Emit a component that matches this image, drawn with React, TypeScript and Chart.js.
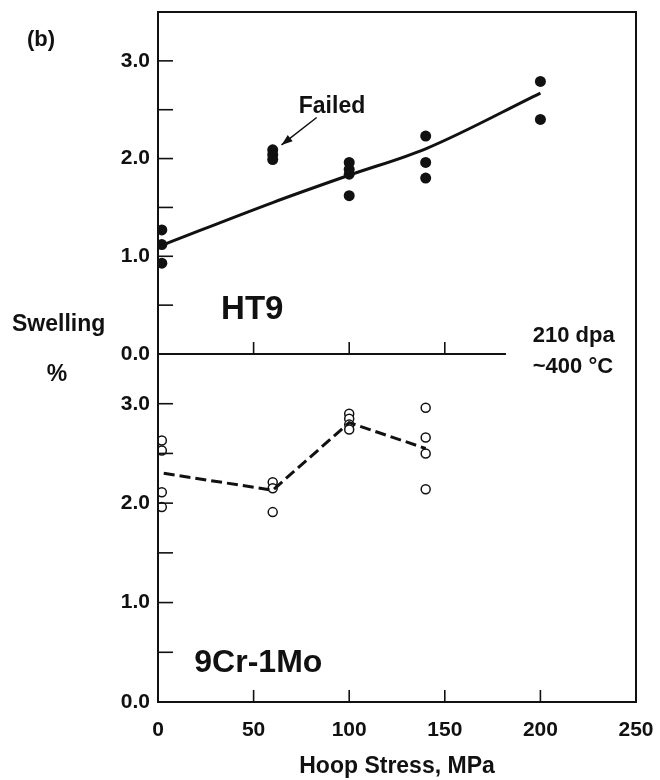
import React, { useEffect, useRef } from 'react';
import { Chart, registerables } from 'chart.js';

Chart.register(...registerables);

const FONT = "'Liberation Sans', Arial, Helvetica, sans-serif";

// HT9 (filled circles), hoop stress (MPa) vs swelling (%)
const ht9X = [2, 2, 2, 60, 60, 60, 100, 100, 100, 100, 140, 140, 140, 200, 200];
const ht9Y = [1.27, 1.12, 0.93, 2.09, 2.04, 1.99, 1.96, 1.89, 1.84, 1.62, 2.23, 1.96, 1.8, 2.79, 2.4];
const ht9FitX = [3, 60, 100, 140, 200];
const ht9FitY = [1.12, 1.55, 1.83, 2.1, 2.67];

// 9Cr-1Mo (open circles)
const crX = [2, 2, 2, 2, 60, 60, 60, 100, 100, 100, 100, 140, 140, 140, 140];
const crY = [2.63, 2.53, 2.11, 1.96, 2.21, 2.15, 1.91, 2.9, 2.85, 2.79, 2.74, 2.96, 2.66, 2.5, 2.14];
const crLineX = [3, 60, 100, 140];
const crLineY = [2.3, 2.13, 2.81, 2.55];

// axis ticks
const yMinorTicks = [0.5, 1, 1.5, 2, 2.5, 3];
const xTicksTop = [50, 100, 150];
const xTicksBottom = [50, 100, 150, 200];

const zip = (xs: number[], ys: number[]) => xs.map((x, i) => ({ x, y: ys[i] }));

const yTickLabel = (v: any) => (Number.isInteger(v) ? Number(v).toFixed(1) : '');

const framePlugin = {
  id: 'frame',
  afterDraw(chart: any) {
    const ctx = chart.ctx as CanvasRenderingContext2D;
    const sx = chart.scales.x;
    const yt = chart.scales.yTop;
    const yb = chart.scales.yBot;
    const L = sx.getPixelForValue(0);
    const R = sx.getPixelForValue(250);
    const T = yt.getPixelForValue(3.5);
    const B = yb.getPixelForValue(0);
    const M = yt.getPixelForValue(0);
    ctx.save();
    ctx.strokeStyle = '#111';
    ctx.fillStyle = '#111';
    ctx.lineWidth = 2;
    ctx.beginPath();
    ctx.moveTo(L, T);
    ctx.lineTo(R, T);
    ctx.lineTo(R, B);
    ctx.lineTo(L, B);
    ctx.closePath();
    ctx.stroke();
    // middle zero line of HT9 panel (stops short of the right side)
    ctx.beginPath();
    ctx.moveTo(L, M);
    ctx.lineTo(sx.getPixelForValue(182), M);
    ctx.stroke();
    // inward y ticks
    ctx.lineWidth = 1.6;
    for (const s of [yt, yb]) {
      for (const v of yMinorTicks) {
        const p = s.getPixelForValue(v);
        ctx.beginPath();
        ctx.moveTo(L, p);
        ctx.lineTo(L + 15, p);
        ctx.stroke();
      }
    }
    // inward x ticks
    for (const v of xTicksTop) {
      const p = sx.getPixelForValue(v);
      ctx.beginPath();
      ctx.moveTo(p, M);
      ctx.lineTo(p, M - 12);
      ctx.stroke();
    }
    for (const v of xTicksBottom) {
      const p = sx.getPixelForValue(v);
      ctx.beginPath();
      ctx.moveTo(p, B);
      ctx.lineTo(p, B - 12);
      ctx.stroke();
    }

    // texts
    ctx.textBaseline = 'alphabetic';
    ctx.textAlign = 'left';
    ctx.font = `bold 22px ${FONT}`;
    ctx.fillText('(b)', 27, 46);
    ctx.font = `bold 23px ${FONT}`;
    ctx.fillText('Swelling', 12, 331);
    ctx.textAlign = 'center';
    ctx.fillText('%', 57, 381);

    // Failed + arrow
    ctx.textAlign = 'center';
    ctx.font = `bold 23px ${FONT}`;
    ctx.fillText('Failed', sx.getPixelForValue(91), yt.getPixelForValue(2.47));
    const ax0 = sx.getPixelForValue(83), ay0 = yt.getPixelForValue(2.42);
    const ax1 = sx.getPixelForValue(64.6), ay1 = yt.getPixelForValue(2.14);
    ctx.lineWidth = 1.5;
    ctx.beginPath();
    ctx.moveTo(ax0, ay0);
    ctx.lineTo(ax1, ay1);
    ctx.stroke();
    const ang = Math.atan2(ay1 - ay0, ax1 - ax0);
    const hl = 11, hw = 4;
    ctx.beginPath();
    ctx.moveTo(ax1, ay1);
    ctx.lineTo(ax1 - hl * Math.cos(ang) + hw * Math.sin(ang), ay1 - hl * Math.sin(ang) - hw * Math.cos(ang));
    ctx.lineTo(ax1 - hl * Math.cos(ang) - hw * Math.sin(ang), ay1 - hl * Math.sin(ang) + hw * Math.cos(ang));
    ctx.closePath();
    ctx.fill();

    ctx.textAlign = 'left';
    ctx.font = `bold 33px ${FONT}`;
    ctx.fillText('HT9', sx.getPixelForValue(33), yt.getPixelForValue(0.36));
    ctx.font = `bold 32px ${FONT}`;
    ctx.fillText('9Cr-1Mo', sx.getPixelForValue(19), yb.getPixelForValue(0.3));
    ctx.font = `bold 22px ${FONT}`;
    ctx.fillText('210 dpa', sx.getPixelForValue(196), yt.getPixelForValue(0.12));
    ctx.fillText('~400 °C', sx.getPixelForValue(196), yb.getPixelForValue(3.31));
    ctx.restore();
  },
};

export default function App() {
  const ref = useRef<HTMLCanvasElement | null>(null);
  useEffect(() => {
    if (!ref.current) return;
    const yCommon = (weight: number, stackWeight: number) => ({
      type: 'linear' as const,
      position: 'left' as const,
      stack: 'panels',
      stackWeight,
      weight,
      min: 0,
      max: 3.5,
      grid: { display: false, drawTicks: false },
      border: { display: false },
      ticks: {
        stepSize: 0.5,
        autoSkip: false,
        padding: 8,
        color: '#111',
        font: { family: FONT, size: 21, weight: 'bold' as const },
        callback: yTickLabel,
      },
      afterFit: (s: any) => {
        s.width = 158;
        s.paddingTop = 0;
        s.paddingBottom = 0;
      },
    });
    const chart = new Chart(ref.current, {
      type: 'scatter',
      data: {
        datasets: [
          {
            type: 'line',
            data: zip(ht9FitX, ht9FitY),
            yAxisID: 'yTop',
            borderColor: '#111',
            borderWidth: 3,
            pointRadius: 0,
            cubicInterpolationMode: 'monotone',
            fill: false,
          },
          {
            type: 'scatter',
            data: zip(ht9X, ht9Y),
            yAxisID: 'yTop',
            backgroundColor: '#111',
            borderWidth: 0,
            pointRadius: 5.5,
          },
          {
            type: 'line',
            data: zip(crLineX, crLineY),
            yAxisID: 'yBot',
            borderColor: '#111',
            borderWidth: 3,
            borderDash: [11, 5],
            pointRadius: 0,
            tension: 0,
            fill: false,
          },
          {
            type: 'scatter',
            data: zip(crX, crY),
            yAxisID: 'yBot',
            backgroundColor: '#fff',
            borderColor: '#111',
            borderWidth: 1.5,
            pointRadius: 4.5,
          },
        ],
      },
      options: {
        responsive: false,
        animation: false,
        layout: { padding: { top: 12, right: 24, left: 0, bottom: 0 } },
        plugins: { legend: { display: false }, tooltip: { enabled: false } },
        scales: {
          x: {
            type: 'linear',
            position: 'bottom',
            min: 0,
            max: 250,
            grid: { display: false, drawTicks: false },
            border: { display: false },
            ticks: {
              stepSize: 50,
              padding: 16,
              color: '#111',
              font: { family: FONT, size: 21, weight: 'bold' },
            },
            title: {
              display: true,
              text: 'Hoop Stress, MPa',
              color: '#111',
              font: { family: FONT, size: 23, weight: 'bold' },
              padding: { top: 0, bottom: 0 },
            },
            afterFit: (s: any) => {
              s.height = 78;
              s.paddingLeft = 0;
              s.paddingRight = 0;
            },
          },
          yBot: yCommon(0, 348),
          yTop: yCommon(1, 342),
        },
      },
      plugins: [framePlugin],
    });
    return () => chart.destroy();
  }, []);
  return (
    <div style={{ position: 'fixed', left: 0, top: 0, width: 660, height: 780, background: '#fff' }}>
      <canvas ref={ref} width={660} height={780} style={{ display: 'block' }} />
    </div>
  );
}
